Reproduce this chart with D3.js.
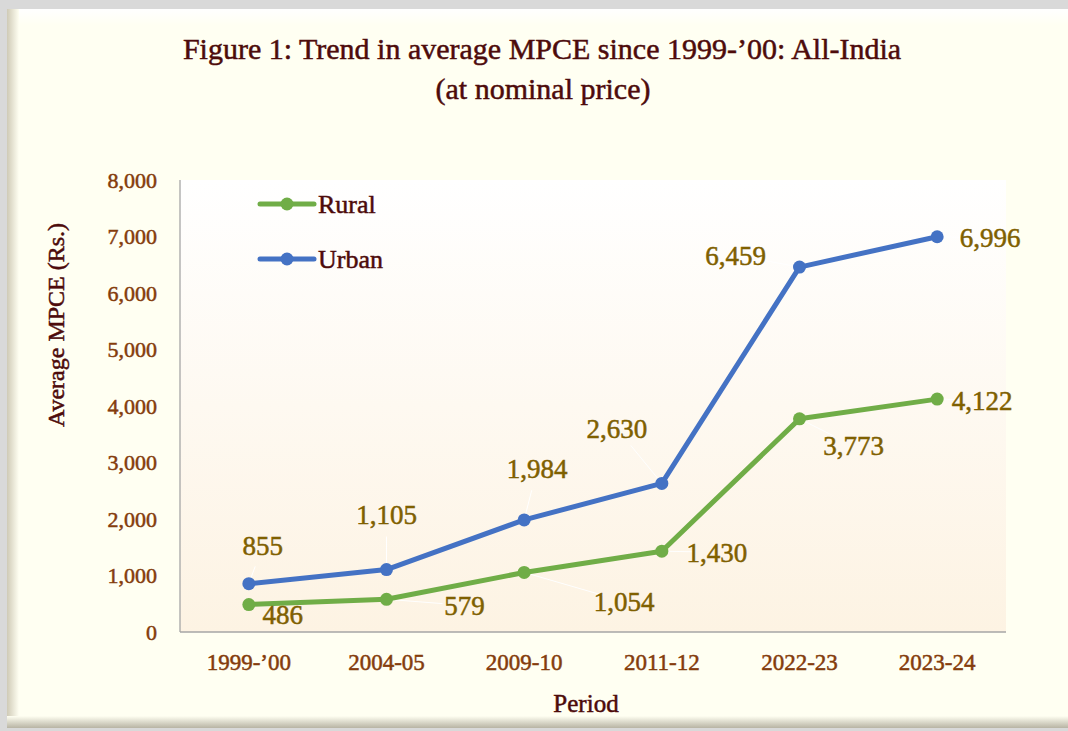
<!DOCTYPE html>
<html>
<head>
<meta charset="utf-8">
<script src="https://cdn.jsdelivr.net/npm/d3@7"></script>
<style>
  body { margin: 0; background: #d9d9d9; }
  svg { display: block; font-family: 'Liberation Serif', 'DejaVu Serif', serif; }
</style>
</head>
<body>
<div id="chart"></div>
<script>
const periods = ['1999-\u201900', '2004-05', '2009-10', '2011-12', '2022-23', '2023-24']
const rural = [486, 579, 1054, 1430, 3773, 4122]
const urban = [855, 1105, 1984, 2630, 6459, 6996]
const yTicks = [0, 1000, 2000, 3000, 4000, 5000, 6000, 7000, 8000]

// label offsets from the point (px), hand placed like the original
const urbanLabelOffset = [[14, -38], [0, -55], [13, -51], [-45, -55], [-64, -12], [53, 1]]
const ruralLabelOffset = [[34, 10], [78, 6], [100, 29], [55, 1], [54, 27], [45, 1]]

const series = [
  { name: 'Rural', values: rural, color: '#70ad47', offsets: ruralLabelOffset },
  { name: 'Urban', values: urban, color: '#4472c4', offsets: urbanLabelOffset }
]

const width = 1068
const height = 731
const plot = { left: 180, right: 1006, top: 180, bottom: 632 }
const darkRed = '#4d0b0b'
const brown = '#843c0c'
const olive = '#7f6000'

// a thin outline of the same colour makes Liberation Serif look closer to the heavier original face
function heavy (sel, color, w) {
  sel.attr('fill', color).attr('stroke', color).attr('stroke-width', w || 0.5)
}

const svg = d3.select('#chart').append('svg')
  .attr('width', width)
  .attr('height', height)

const defs = svg.append('defs')
const plotGrad = defs.append('linearGradient').attr('id', 'plotGrad')
  .attr('x1', 0).attr('y1', 0).attr('x2', 0).attr('y2', 1)
plotGrad.append('stop').attr('offset', '0%').attr('stop-color', '#ffffff')
plotGrad.append('stop').attr('offset', '100%').attr('stop-color', '#fdf3e3')

const leftBevel = defs.append('linearGradient').attr('id', 'leftBevel')
  .attr('x1', 0).attr('y1', 0).attr('x2', 1).attr('y2', 0)
leftBevel.append('stop').attr('offset', '0%').attr('stop-color', '#cfcab6')
leftBevel.append('stop').attr('offset', '100%').attr('stop-color', '#fffff2')

const bottomBevel = defs.append('linearGradient').attr('id', 'bottomBevel')
  .attr('x1', 0).attr('y1', 0).attr('x2', 0).attr('y2', 1)
bottomBevel.append('stop').attr('offset', '0%').attr('stop-color', '#fffff2')
bottomBevel.append('stop').attr('offset', '100%').attr('stop-color', '#b8b4a4')

const topBevel = defs.append('linearGradient').attr('id', 'topBevel')
  .attr('x1', 0).attr('y1', 0).attr('x2', 0).attr('y2', 1)
topBevel.append('stop').attr('offset', '0%').attr('stop-color', '#ffffff')
topBevel.append('stop').attr('offset', '100%').attr('stop-color', '#fffff2')

// card
svg.append('rect').attr('x', 7).attr('y', 9).attr('width', width).attr('height', 719)
  .attr('fill', '#fffff2')
svg.append('rect').attr('x', 7).attr('y', 9).attr('width', width).attr('height', 16)
  .attr('fill', 'url(#topBevel)')
svg.append('rect').attr('x', 7).attr('y', 9).attr('width', 12).attr('height', 719)
  .attr('fill', 'url(#leftBevel)')
svg.append('rect').attr('x', 7).attr('y', 716).attr('width', width).attr('height', 12)
  .attr('fill', 'url(#bottomBevel)')

// plot area
svg.append('rect')
  .attr('x', plot.left).attr('y', plot.top)
  .attr('width', plot.right - plot.left).attr('height', plot.bottom - plot.top)
  .attr('fill', 'url(#plotGrad)')

const x = d3.scaleBand().domain(periods).range([plot.left, plot.right])
const y = d3.scaleLinear().domain([0, 8000]).range([plot.bottom, plot.top])
const cx = p => x(p) + x.bandwidth() / 2

// axes lines
svg.append('line').attr('x1', plot.left).attr('x2', plot.left)
  .attr('y1', plot.top).attr('y2', plot.bottom)
  .attr('stroke', '#a6a6a6').attr('stroke-width', 1.3)
svg.append('line').attr('x1', plot.left).attr('x2', plot.right)
  .attr('y1', plot.bottom).attr('y2', plot.bottom)
  .attr('stroke', '#a6a6a6').attr('stroke-width', 1.3)

const yAxis = svg.append('g')
  .attr('transform', `translate(${plot.left},0)`)
  .call(d3.axisLeft(y).tickValues(yTicks).tickFormat(d3.format(',')).tickSize(0).tickPadding(23))
yAxis.select('.domain').remove()
yAxis.selectAll('text')
  .call(heavy, brown, 0.5)
  .style('font-size', '22px')
  .style('font-family', "'Liberation Serif', serif")

const xAxis = svg.append('g')
  .attr('transform', `translate(0,${plot.bottom})`)
  .call(d3.axisBottom(x).tickSize(0).tickPadding(22))
xAxis.select('.domain').remove()
xAxis.selectAll('text')
  .call(heavy, brown, 0.5)
  .style('font-size', '23px')
  .style('font-family', "'Liberation Serif', serif")

// titles
svg.append('text')
  .attr('x', 542).attr('y', 59)
  .attr('text-anchor', 'middle')
  .call(heavy, darkRed, 0.5)
  .style('font-size', '30px')
  .text('Figure 1: Trend in average MPCE since 1999-\u201900: All-India')
svg.append('text')
  .attr('x', 543).attr('y', 99)
  .attr('text-anchor', 'middle')
  .call(heavy, darkRed, 0.5)
  .style('font-size', '30px')
  .text('(at nominal price)')

svg.append('text')
  .attr('transform', 'translate(64,325) rotate(-90)')
  .attr('text-anchor', 'middle')
  .call(heavy, darkRed, 0.5)
  .style('font-size', '24px')
  .text('Average MPCE (Rs.)')

svg.append('text')
  .attr('x', 586).attr('y', 712)
  .attr('text-anchor', 'middle')
  .call(heavy, darkRed, 0.5)
  .style('font-size', '25px')
  .text('Period')

// leader lines (white, thin) for labels pushed away from their point
const leaders = svg.append('g')
series.forEach(s => {
  s.values.forEach((v, i) => {
    const [dx, dy] = s.offsets[i]
    const dist = Math.hypot(dx, dy)
    if (dist < 40) return
    const px = cx(periods[i])
    const py = y(v)
    const k = (dist - 22) / dist
    leaders.append('line')
      .attr('x1', px).attr('y1', py)
      .attr('x2', px + dx * k).attr('y2', py + dy * k)
      .attr('stroke', '#ffffff').attr('stroke-width', 1)
  })
})

const line = d3.line()
  .x((d, i) => cx(periods[i]))
  .y(d => y(d))

series.forEach(s => {
  const g = svg.append('g')
  g.append('path')
    .datum(s.values)
    .attr('d', line)
    .attr('fill', 'none')
    .attr('stroke', s.color)
    .attr('stroke-width', 5)
    .attr('stroke-linejoin', 'round')
    .attr('stroke-linecap', 'round')
  g.selectAll('circle')
    .data(s.values)
    .join('circle')
    .attr('cx', (d, i) => cx(periods[i]))
    .attr('cy', d => y(d))
    .attr('r', 6.5)
    .attr('fill', s.color)
  g.selectAll('text')
    .data(s.values)
    .join('text')
    .attr('x', (d, i) => cx(periods[i]) + s.offsets[i][0])
    .attr('y', (d, i) => y(d) + s.offsets[i][1])
    .attr('dy', '0.35em')
    .attr('text-anchor', 'middle')
    .call(heavy, olive, 0.5)
    .style('font-size', '27px')
    .text(d => d3.format(',')(d))
})

// legend
const legend = svg.append('g')
series.forEach((s, i) => {
  const ly = 204 + i * 55
  legend.append('line')
    .attr('x1', 260).attr('x2', 314)
    .attr('y1', ly).attr('y2', ly)
    .attr('stroke', s.color).attr('stroke-width', 5)
    .attr('stroke-linecap', 'round')
  legend.append('circle')
    .attr('cx', 287).attr('cy', ly).attr('r', 6.5)
    .attr('fill', s.color)
  legend.append('text')
    .attr('x', 318).attr('y', ly)
    .attr('dy', '0.35em')
    .call(heavy, darkRed, 0.5)
    .style('font-size', '26px')
    .text(s.name)
})
</script>
</body>
</html>
